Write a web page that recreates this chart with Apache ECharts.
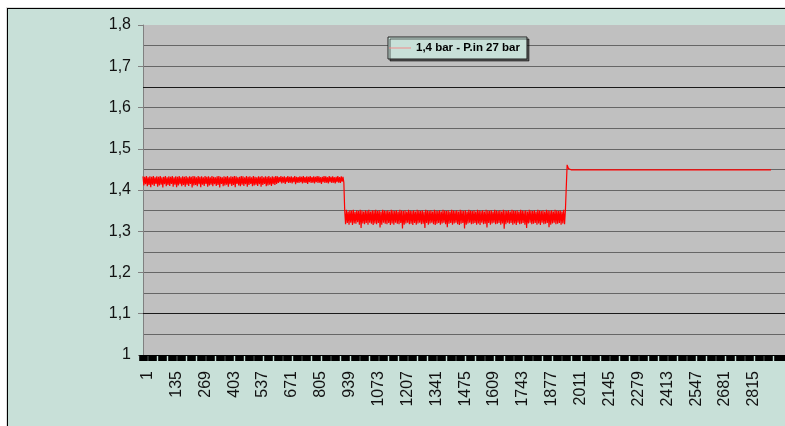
<!DOCTYPE html>
<html>
<head>
<meta charset="utf-8">
<script src="https://cdn.jsdelivr.net/npm/echarts@6/dist/echarts.min.js"></script>
<style>
  html, body { margin: 0; padding: 0; background: #fff; overflow: hidden; }
  #frame {
    position: absolute; left: 7px; top: 8px; width: 800px; height: 440px;
    border: 1px solid #000; background: #c8e0d8;
    box-shadow: -1px -1px 0 #ddd;
  }
  #main { position: absolute; left: 0; top: 0; width: 785px; height: 426px; }
</style>
</head>
<body>
<div id="frame"></div>
<div id="main"></div>
<script>
// sample index (0 = sample "1"), one value every 4 samples
var step = 4;
var seg1Start = 0;
var seg2Start = 936;

// first plateau ~1,42
var seg1 = [
  1.433,1.411,1.432,1.414,1.434,1.409,1.431,1.412,1.433,1.407,1.432,1.413,
  1.434,1.410,1.431,1.415,1.433,1.408,1.432,1.411,1.434,1.413,1.431,1.406,
  1.432,1.414,1.434,1.409,1.431,1.412,1.433,1.410,1.432,1.415,1.434,1.408,
  1.431,1.413,1.433,1.407,1.432,1.411,1.434,1.414,1.431,1.409,1.433,1.412,
  1.432,1.408,1.434,1.413,1.431,1.410,1.433,1.415,1.432,1.406,1.434,1.411,
  1.433,1.412,1.431,1.409,1.434,1.414,1.432,1.407,1.433,1.413,1.431,1.410,
  1.434,1.415,1.432,1.408,1.433,1.411,1.431,1.413,1.434,1.409,1.432,1.414,
  1.431,1.410,1.433,1.412,1.434,1.406,1.432,1.415,1.431,1.409,1.433,1.411,
  1.432,1.413,1.434,1.408,1.431,1.414,1.433,1.410,1.432,1.412,1.434,1.407,
  1.433,1.415,1.431,1.411,1.432,1.409,1.434,1.413,1.433,1.410,1.431,1.414,
  1.434,1.408,1.432,1.412,1.433,1.415,1.431,1.409,1.434,1.411,1.432,1.413,
  1.431,1.410,1.433,1.414,1.432,1.408,1.434,1.412,1.431,1.415,1.433,1.409,
  1.432,1.411,1.434,1.413,1.431,1.410,1.433,1.414,1.432,1.412,1.434,1.415,
  1.433,1.417,1.431,1.419,1.434,1.416,1.432,1.418,1.433,1.415,1.431,1.419,
  1.434,1.417,1.432,1.418,1.433,1.416,1.431,1.419,1.434,1.414,1.432,1.418,
  1.431,1.417,1.433,1.419,1.432,1.416,1.434,1.418,1.431,1.417,1.433,1.415,
  1.432,1.419,1.434,1.417,1.431,1.418,1.433,1.416,1.432,1.419,1.434,1.417,
  1.433,1.418,1.431,1.415,1.432,1.419,1.434,1.417,1.433,1.418,1.431,1.416,
  1.434,1.419,1.432,1.417,1.433,1.418,1.431,1.416,1.432,1.419,1.434,1.418,
  1.431,1.417,1.433,1.420,1.432,1.418
];

// second plateau ~1,33
var seg2 = [
  1.349,1.317,1.352,1.320,1.348,1.316,1.351,1.321,1.350,1.315,1.352,1.319,
  1.347,1.318,1.351,1.322,1.349,1.316,1.352,1.308,1.350,1.319,1.348,1.317,
  1.351,1.320,1.349,1.316,1.352,1.321,1.348,1.318,1.351,1.315,1.350,1.319,
  1.352,1.317,1.349,1.320,1.351,1.309,1.348,1.316,1.352,1.321,1.350,1.318,
  1.349,1.317,1.351,1.320,1.348,1.315,1.352,1.319,1.350,1.316,1.349,1.321,
  1.351,1.318,1.348,1.317,1.352,1.320,1.350,1.307,1.349,1.316,1.351,1.319,
  1.348,1.321,1.352,1.317,1.350,1.318,1.349,1.315,1.351,1.320,1.348,1.316,
  1.352,1.319,1.350,1.321,1.349,1.317,1.351,1.318,1.348,1.308,1.352,1.320,
  1.350,1.316,1.349,1.319,1.351,1.321,1.348,1.317,1.352,1.315,1.350,1.318,
  1.349,1.320,1.351,1.316,1.348,1.319,1.352,1.321,1.350,1.317,1.349,1.310,
  1.351,1.318,1.348,1.320,1.352,1.316,1.350,1.319,1.349,1.321,1.351,1.317,
  1.348,1.315,1.352,1.318,1.350,1.320,1.349,1.307,1.351,1.316,1.348,1.319,
  1.352,1.321,1.350,1.317,1.349,1.318,1.351,1.320,1.348,1.316,1.352,1.319,
  1.350,1.315,1.349,1.321,1.351,1.317,1.348,1.318,1.352,1.309,1.350,1.320,
  1.349,1.316,1.351,1.319,1.348,1.321,1.352,1.317,1.350,1.318,1.349,1.320,
  1.351,1.316,1.348,1.319,1.352,1.306,1.350,1.317,1.349,1.321,1.351,1.318,
  1.348,1.320,1.352,1.316,1.350,1.319,1.349,1.315,1.351,1.321,1.348,1.317,
  1.352,1.318,1.350,1.320,1.349,1.316,1.351,1.308,1.348,1.319,1.352,1.321,
  1.350,1.317,1.349,1.318,1.351,1.320,1.348,1.316,1.352,1.319,1.350,1.315,
  1.349,1.321,1.351,1.317,1.348,1.318,1.352,1.320,1.350,1.310,1.349,1.316,
  1.351,1.319,1.348,1.321,1.352,1.317,1.350,1.318,1.349,1.320,1.351,1.316,
  1.348,1.319,1.352,1.317,1.350,1.347
];

// last part: jump then flat ~1,45
var tailX = [1968, 1974, 1986, 2060, 2914];
var tailY = [1.461, 1.452, 1.449, 1.449, 1.449];

var seriesName = "1,4 bar - P.in 27 bar";

var data = [];
seg1.forEach(function (v, i) { data.push([seg1Start + i * step, v]); });
seg2.forEach(function (v, i) { data.push([seg2Start + i * step, v]); });
tailX.forEach(function (x, i) { data.push([x, tailY[i]]); });

var chart = echarts.init(document.getElementById("main"));
chart.setOption({
  animation: false,
  textStyle: { fontFamily: "Liberation Sans, Arial, sans-serif" },
  grid: {
    left: 143, top: 25, right: 0, bottom: 71,
    show: true, backgroundColor: "#c0c0c0", borderWidth: 0
  },
  legend: {
    left: 388, top: 37,
    data: [{ name: seriesName, icon: "rect" }],
    itemWidth: 22, itemHeight: 1,
    itemStyle: { color: "#f08c8c" },
    padding: [5, 7, 5, 1],
    backgroundColor: "#c8e0d8",
    borderColor: "#222", borderWidth: 1,
    shadowColor: "rgba(0,0,0,0.55)", shadowBlur: 0, shadowOffsetX: 2, shadowOffsetY: 2,
    textStyle: { fontSize: 11.5, fontWeight: "bold", color: "#000", fontFamily: "Liberation Sans, Arial" }
  },
  xAxis: {
    type: "value",
    min: 0, max: 2979, interval: 134,
    axisLine: { show: true, lineStyle: { color: "#000", width: 1 } },
    axisTick: { show: true, length: 6, lineStyle: { color: "#000", width: 8.6 } },
    minorTick: { show: true, splitNumber: 3, length: 6, lineStyle: { color: "#000", width: 8.6 } },
    splitLine: { show: false },
    axisLabel: {
      rotate: 90, margin: 16, fontSize: 16, color: "#111",
      // labels sit a little right of their tick in the original
      verticalAlign: "top", lineHeight: 9,
      showMaxLabel: false,
      formatter: function (v) { return v > 2900 ? "" : String(v + 1); }
    }
  },
  yAxis: {
    type: "value",
    min: 1, max: 1.8, interval: 0.1,
    axisLine: { show: true, lineStyle: { color: "#808080" } },
    axisTick: { show: true, length: 5, lineStyle: { color: "#808080" } },
    minorTick: { show: false, splitNumber: 2 },
    splitLine: { show: true, showMaxLine: false, showMinLine: false, lineStyle: { color: "#666", width: 1 } },
    minorSplitLine: { show: true, lineStyle: { color: "#666", width: 1 } },
    axisLabel: {
      margin: 12, fontSize: 16, color: "#111",
      formatter: function (v) {
        if (Math.abs(v - 1) < 1e-9) return "1";
        return v.toFixed(1).replace(".", ",");
      }
    }
  },
  series: [
    {
      name: seriesName,
      type: "line",
      data: data,
      symbol: "none",
      sampling: null,
      color: "#ff0000",
      lineStyle: { color: "#ff0000", width: 1.2 },
      // the two darker gridlines of the original
      markLine: {
        silent: true,
        symbol: "none",
        label: { show: false },
        lineStyle: { color: "#1a1a1a", type: "solid", width: 1 },
        data: [{ yAxis: 1.65 }, { yAxis: 1.1 }]
      }
    }
  ]
});
</script>
</body>
</html>
